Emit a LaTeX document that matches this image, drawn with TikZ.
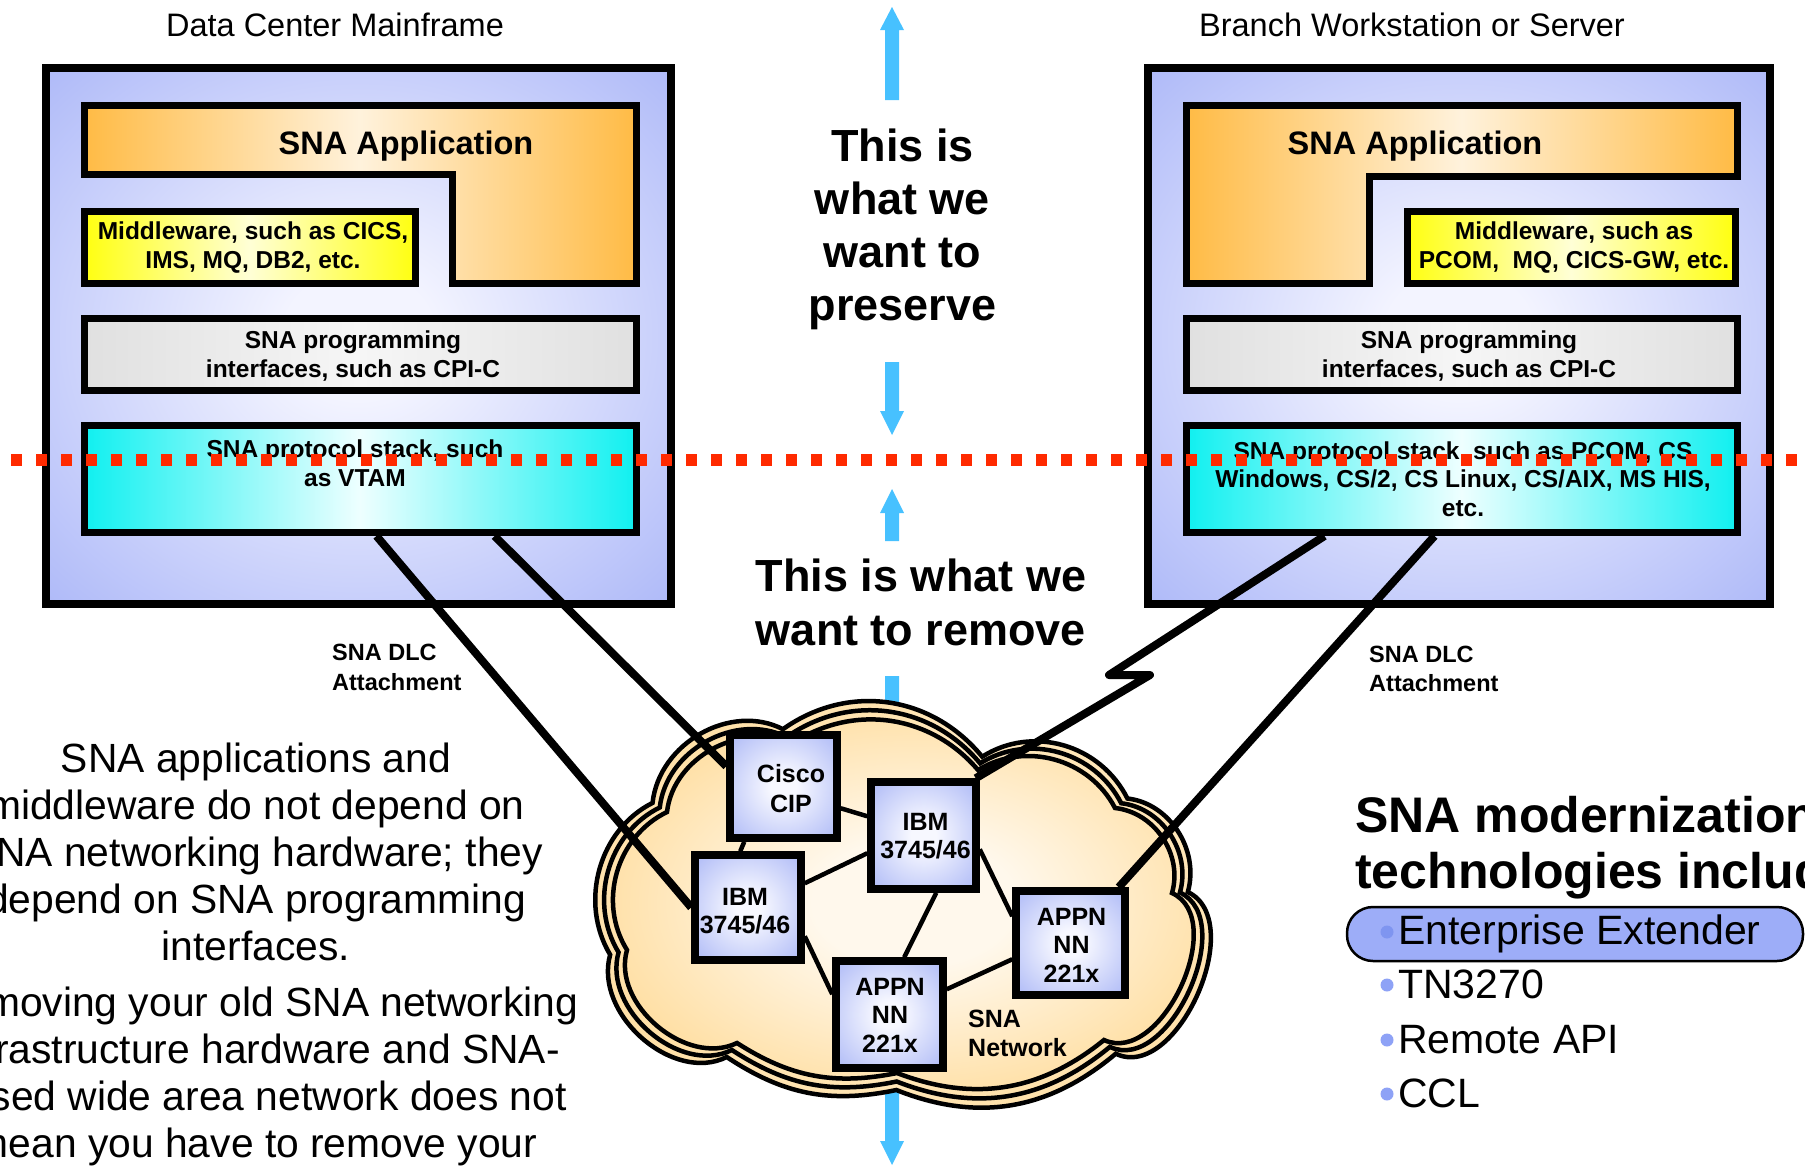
\documentclass[tikz,border=0pt]{standalone}
\usepackage{fontspec}
\setmainfont{Liberation Sans}
\usetikzlibrary{calc}
\definecolor{boxin}{HTML}{F3F4FF}
\definecolor{boxout}{HTML}{8D9DF5}
\definecolor{netin}{HTML}{F7F8FF}
\definecolor{netout}{HTML}{8A9BF2}
\definecolor{cloudin}{HTML}{FFF8EC}
\definecolor{cloudout}{HTML}{FFC250}
\definecolor{appor}{HTML}{FFBB45}
\definecolor{applight}{HTML}{FFF2DC}
\definecolor{mwy}{HTML}{FFFF10}
\definecolor{mwlight}{HTML}{FFFFD6}
\definecolor{pgrey}{HTML}{E0E0E0}
\definecolor{plight}{HTML}{F6F6F6}
\definecolor{stcyan}{HTML}{10F0F0}
\definecolor{stlight}{HTML}{EEFFFF}
\definecolor{arrowblue}{HTML}{47C1FF}
\definecolor{dotred}{HTML}{FF2A00}
\definecolor{pillc}{HTML}{9DADF8}
\definecolor{bul}{HTML}{8EA2F6}
\definecolor{bulb}{HTML}{7F95F0}
\pgfdeclareradialshading{bigbox}{\pgfpoint{0bp}{0bp}}{color(0bp)=(boxin); color(6bp)=(boxin); color(50bp)=(boxout); color(100bp)=(boxout)}
\pgfdeclareradialshading{netboxsh}{\pgfpoint{0bp}{0bp}}{color(0bp)=(netin); color(6bp)=(netin); color(50bp)=(netout); color(100bp)=(netout)}
\pgfdeclareradialshading{cloudsh}{\pgfpoint{0bp}{0bp}}{color(0bp)=(cloudin); color(8bp)=(cloudin); color(46bp)=(cloudout); color(100bp)=(cloudout)}
\newcommand\myfs[2]{\fontsize{#1}{#2}\selectfont}
\newcommand\mlc[1]{\begin{tabular}[t]{@{}c@{}}#1\end{tabular}}
\newcommand\mll[1]{\begin{tabular}[t]{@{}l@{}}#1\end{tabular}}
\def\cloudpath{(627,950) to[bend left=48] (667,812) to[bend left=55] (790,745) to[bend left=42] (978,770) to[bend left=47] (1115,808) to[bend left=50] (1172,893) to[bend left=90] (1104,1040) to[bend left=30] (897,1073) to[bend left=22] (737,1043) to[bend left=66] (627,950) -- cycle}
\begin{document}
\begin{tikzpicture}[x=1pt,y=-1pt,
  txt/.style={inner sep=0pt, anchor=base, text=black},
  outerbox/.style={draw=black, line width=8pt, shade, shading=bigbox, inner sep=0pt},
  appbox/.style={draw=black, line width=7pt, left color=appor, right color=appor, middle color=applight},
  mwbox/.style={draw=black, line width=7pt, left color=mwy, right color=mwy, middle color=mwlight, inner sep=0pt},
  pgbox/.style={draw=black, line width=7pt, left color=pgrey, right color=pgrey, middle color=plight, inner sep=0pt},
  stbox/.style={draw=black, line width=7pt, left color=stcyan, right color=stcyan, middle color=stlight, inner sep=0pt},
  netbox/.style={draw=black, line width=7.5pt, shade, shading=netboxsh, inner sep=0pt},
  cloudlayer/.style={draw=black, line width=4.5pt, shade, shading=cloudsh},
  thick link/.style={draw=black, line width=8pt},
  thin link/.style={draw=black, line width=4.5pt},
  bluearrow/.style={fill=arrowblue},
  reddots/.style={draw=dotred, line width=12pt, dash pattern=on 11pt off 14pt, dash phase=14pt},
  boxtxt/.style={txt, font=\bfseries\myfs{24.5}{29}},
  nettxt/.style={txt, font=\bfseries\myfs{25}{28.5}},
]
\useasboundingbox (0,0) rectangle (1805,1167);
\clip (0,0) rectangle (1805,1167);

% headers
\node[txt, font=\myfs{32.5}{38}] (hdl) at (335,36) {Data Center Mainframe};
\node[txt, font=\myfs{32.5}{38}] (hdr) at (1412,36) {Branch Workstation or Server};

% outer boxes
\node[outerbox, minimum width=625pt, minimum height=536pt] (lbox) at (358.5,335.5) {};
\node[outerbox, minimum width=622pt, minimum height=536pt] (rbox) at (1459,335.5) {};

% application L shapes
\draw[appbox] (84,105.5) -- (636,105.5) -- (636,283.5) -- (452,283.5) -- (452,174) -- (84,174) -- cycle;
\draw[appbox] (1186,105.5) -- (1737,105.5) -- (1737,176) -- (1369,176) -- (1369,283.5) -- (1186,283.5) -- cycle;

% inner boxes
\node[mwbox, minimum width=331pt, minimum height=72pt] (lmw) at (249.5,247.5) {};
\node[mwbox, minimum width=328pt, minimum height=72pt] (rmw) at (1571,247.5) {};
\node[pgbox, minimum width=552pt, minimum height=72pt] (lpg) at (360,354) {};
\node[pgbox, minimum width=551pt, minimum height=72pt] (rpg) at (1461.5,354) {};
\node[stbox, minimum width=552pt, minimum height=107.5pt] (lst) at (360,478.75) {};
\node[stbox, minimum width=551pt, minimum height=107.5pt] (rst) at (1461.5,478.75) {};

% box texts
\node[txt, font=\bfseries\myfs{32.5}{40}] (lapp) at (406,154) {SNA Application};
\node[txt, font=\bfseries\myfs{32.5}{40}] (rapp) at (1415,154) {SNA Application};
\node[boxtxt] (lmwt) at (253,239) {\mlc{Middleware, such as CICS,\\IMS, MQ, DB2, etc.}};
\node[boxtxt] (rmwt) at (1574,239) {\mlc{Middleware, such as\\PCOM,\ \ MQ, CICS-GW, etc.}};
\node[boxtxt] (lpgt) at (353,348) {\mlc{SNA programming\\interfaces, such as CPI-C}};
\node[boxtxt] (rpgt) at (1469,348) {\mlc{SNA programming\\interfaces, such as CPI-C}};
\node[boxtxt] (lstt) at (355,457) {\mlc{SNA protocol stack, such\\as VTAM}};
\node[boxtxt, font=\bfseries\myfs{24.5}{28.5}] (rstt) at (1463,459) {\mlc{SNA protocol stack, such as PCOM, CS\\Windows, CS/2, CS Linux, CS/AIX, MS HIS,\\etc.}};

% blue arrows
\fill[bluearrow] (885,100) -- (885,30) -- (880,30) -- (892,7) -- (904,30) -- (899,30) -- (899,100) -- cycle;
\fill[bluearrow] (885,362) -- (885,411) -- (880,411) -- (892,435) -- (904,411) -- (899,411) -- (899,362) -- cycle;
\fill[bluearrow] (885,541) -- (885,513) -- (880,513) -- (892,489) -- (904,513) -- (899,513) -- (899,541) -- cycle;
\fill[bluearrow] (885,676) -- (885,1141) -- (880,1141) -- (892,1165) -- (904,1141) -- (899,1141) -- (899,676) -- cycle;

% middle texts
\node[txt, font=\bfseries\myfs{45}{53.3}] (pres) at (902.5,161) {\mlc{This is\\what we\\want to\\preserve}};
\node[txt, font=\bfseries\myfs{45}{54}] (remv) at (921,591) {\mlc{This is what we\\want to remove}};

% DLC labels
\node[txt, anchor=base west, font=\bfseries\myfs{23.5}{30}] (dlcl) at (332,660) {\mll{SNA DLC\\Attachment}};
\node[txt, anchor=base west, font=\bfseries\myfs{23.5}{29}] (dlcr) at (1369,662) {\mll{SNA DLC\\Attachment}};

% cloud layers
\path[cloudlayer, shift={(908,903)}, xscale=1.06, yscale=1.10, shift={(-908,-903)}] \cloudpath;
\path[cloudlayer, shift={(908,903)}, xscale=1.03, yscale=1.05, shift={(-908,-903)}] \cloudpath;
\path[cloudlayer] \cloudpath;

% network boxes
\node[netbox, minimum width=107pt, minimum height=103pt] (cisco) at (783.5,786.5) {};
\node[netbox, minimum width=105pt, minimum height=107pt] (ibmr) at (923.5,835.5) {};
\node[netbox, minimum width=106pt, minimum height=105pt] (ibml) at (748,907.5) {};
\node[netbox, minimum width=107pt, minimum height=107pt] (appnb) at (889.5,1014.5) {};
\node[netbox, minimum width=109pt, minimum height=104pt] (appnr) at (1070.5,943) {};
\node[nettxt, font=\bfseries\myfs{25}{30}] (ciscot) at (791,782) {\mlc{Cisco\\CIP}};
\node[nettxt] (ibmrt) at (925.5,830) {\mlc{IBM\\3745/46}};
\node[nettxt] (ibmlt) at (745,905) {\mlc{IBM\\3745/46}};
\node[nettxt] (appnbt) at (890,995) {\mlc{APPN\\NN\\221x}};
\node[nettxt] (appnrt) at (1071.5,925) {\mlc{APPN\\NN\\221x}};
\node[nettxt, anchor=base west, font=\bfseries\myfs{25}{29}] (snanet) at (968,1027) {\mll{SNA\\Network}};

% thick attachment links
\coordinate (z1) at (1109,675);
\coordinate (z2) at (1150,675);
\draw[thick link] ([xshift=296pt]lst.south west) -- (ibml.west);
\draw[thick link] ([xshift=414pt]lst.south west) -- ([yshift=-35pt]cisco.north west);
\draw[thick link, line join=round] ([xshift=142pt]rst.south west) -- (z1) -- (z2) -- ([xshift=-4pt]ibmr.north east);
\draw[thick link] ([xshift=252pt]rst.south west) -- ([xshift=-10pt]appnr.north east);

% thin network links
\draw[thin link] ([xshift=18pt]cisco.south west) -- ([xshift=49pt]ibml.north west);
\draw[thin link] ([yshift=-77pt]cisco.north east) -- ([yshift=-38pt]ibmr.north west);
\draw[thin link] ([yshift=-32pt]ibml.north east) -- ([yshift=-75pt]ibmr.north west);
\draw[thin link] ([yshift=-85pt]ibml.north east) -- ([yshift=-37pt]appnb.north west);
\draw[thin link] ([xshift=69pt]ibmr.south west) -- ([xshift=72pt]appnb.north west);
\draw[thin link] ([yshift=-71pt]ibmr.north east) -- ([yshift=-29pt]appnr.north west);
\draw[thin link] ([yshift=-32pt]appnb.north east) -- ([yshift=-72pt]appnr.north west);

% red dotted boundary
\coordinate (dl) at (0,460);
\coordinate (dr) at (1805,460);
\draw[reddots] (dl) -- (dr);

% left paragraphs
\node[txt, font=\myfs{40.8}{47}] (para1) at (256,772) {\mlc{SNA applications and\\middleware do not depend on\\SNA networking hardware; they\\depend on SNA programming\\interfaces.}};
\node[txt, font=\myfs{40.8}{47}] (para2) at (256,1016) {\mlc{Removing your old SNA networking\\infrastructure hardware and SNA-\\based wide area network does not\\mean you have to remove your}};

% right list
\node[txt, anchor=base west, font=\bfseries\myfs{50}{56}] (head) at (1355,832) {\mll{SNA modernization\\technologies include:}};
\node[draw=black, fill=pillc, line width=2.5pt, rounded corners=26pt, minimum width=456pt, minimum height=54pt, inner sep=0pt] (pill) at (1575,934) {};
\fill[bulb] (1387,932) circle (6.5pt);
\fill[bul] (1387,985) circle (6.5pt);
\fill[bul] (1387,1040) circle (6.5pt);
\fill[bul] (1387,1094) circle (6.5pt);
\node[txt, anchor=base west, font=\myfs{41}{50}] (b1) at (1398,944) {Enterprise Extender};
\node[txt, anchor=base west, font=\myfs{41}{50}] (b2) at (1398,998) {TN3270};
\node[txt, anchor=base west, font=\myfs{41}{50}] (b3) at (1398,1053) {Remote API};
\node[txt, anchor=base west, font=\myfs{41}{50}] (b4) at (1398,1107) {CCL};
\end{tikzpicture}
\end{document}
